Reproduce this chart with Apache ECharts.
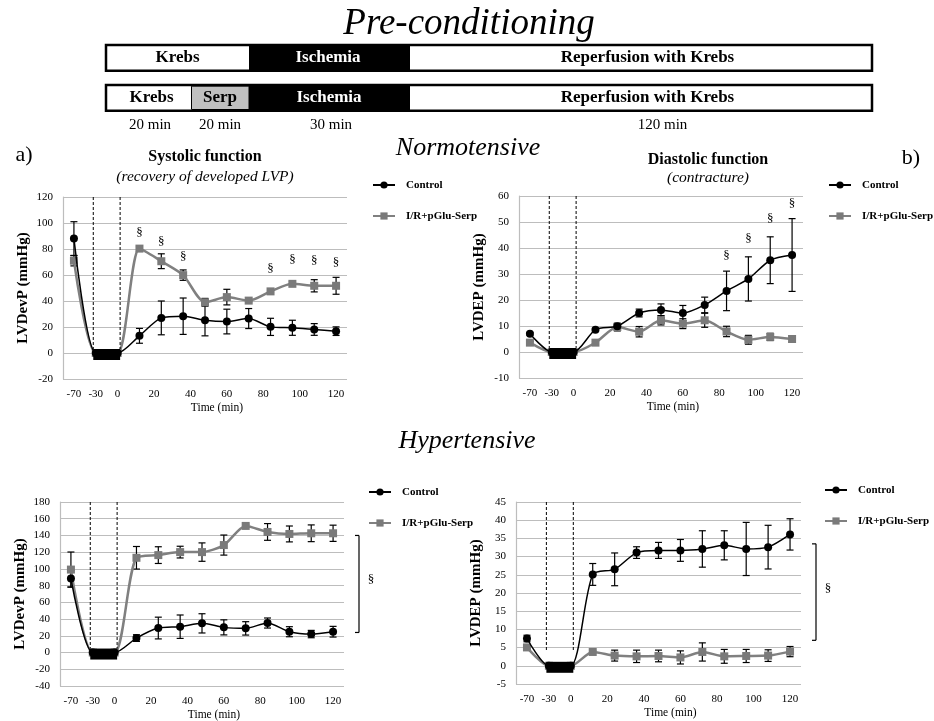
<!DOCTYPE html>
<html>
<head>
<meta charset="utf-8">
<title>Pre-conditioning</title>
<script src="https://cdn.jsdelivr.net/npm/echarts@6/dist/echarts.min.js"></script>
<style>
  html, body { margin: 0; padding: 0; background: #fff; }
  #chart { width: 934px; height: 721px; }
</style>
</head>
<body>
<div id="chart"></div>
<script>
const serif = '"Liberation Serif", "Times New Roman", serif';

// sample positions on the time axis (baseline and ischemia are squeezed in front of 0)
const timeSlots = [-24, -12, 0, 12, 24, 36, 48, 60, 72, 84, 96, 108, 120];
const xTickVals = [-24, -12, 0, 20, 40, 60, 80, 100, 120];
const xTickText = ['-70', '-30', '0', '20', '40', '60', '80', '100', '120'];
const seriesNames = ['Control', 'I/R+pGlu-Serp'];

// a) normotensive, systolic (LVDevP)
const normSysCtrl = [88, 0, 0, 13.2, 27, 28.3, 25.2, 24.2, 26.5, 20.1, 19.4, 18.1, 16.8];
const normSysCtrlErr = [13, 0, 0, 5.7, 13, 14, 12, 9.5, 7.7, 6.6, 5.8, 4.5, 3.3];
const normSysSerp = [71, 0, 0, 80.3, 70.6, 59.9, 39, 43, 40.3, 47.4, 53.2, 51.7, 51.7];
const normSysSerpErr = [4, 0, 0, 1.5, 5.7, 4, 3, 6, 1, 1, 1.5, 4.7, 6.5];
const normSysSig = [null, null, null, 92.7, 85.6, 74.4, null, null, null, 64.7, 71.6, 70.8, 69.8];

// b) normotensive, diastolic (LVDEP)
const normDiaCtrl = [7, 0, 0, 8.6, 9.9, 15, 16.2, 15, 18.1, 23.5, 28.1, 35.3, 37.3];
const normDiaCtrlErr = [0.5, 0, 0, 0.5, 0.8, 1.5, 2.3, 2.9, 3, 7.6, 8.5, 9, 14];
const normDiaSerp = [3.6, 0, 0, 3.6, 9.6, 7.8, 12.2, 10.9, 12.2, 7.9, 4.7, 5.8, 5];
const normDiaSerpErr = [0.5, 0, 0, 0.5, 1.5, 2, 1.8, 1.9, 2.7, 2, 1.7, 1.4, 1.2];
const normDiaSig = [null, null, null, null, null, null, null, null, null, 37.2, 43.5, 51.2, 57.1];

// c) hypertensive, systolic (LVDevP)
const hypSysCtrl = [88.4, 0, 0, 17.3, 29.3, 30.9, 34.9, 30.1, 28.9, 35.3, 24.9, 22.1, 24.9];
const hypSysCtrlErr = [10, 0, 0, 4, 13, 14, 11.5, 9, 8, 6, 6, 4.4, 6.4];
const hypSysSerp = [99.2, 0, 0, 113.3, 116.5, 120.1, 120.1, 128.5, 151.4, 144.2, 141.8, 142.6, 142.6];
const hypSysSerpErr = [21, 0, 0, 13.5, 10, 7, 11, 12, 2, 10, 9.5, 10, 9.7];
const hypSysBracket = [140, 24];

// d) hypertensive, diastolic (LVDEP)
const hypDiaCtrl = [7.5, 0, 0, 25.1, 26.5, 31.1, 31.7, 31.7, 32.1, 33.1, 32.1, 32.6, 36.1];
const hypDiaCtrlErr = [0.9, 0, 0, 3, 4.5, 1.6, 2.2, 3, 5, 4, 7.3, 6, 4.3];
const hypDiaSerp = [5.05, 0, 0, 3.8, 2.8, 2.6, 2.7, 2.3, 3.8, 2.6, 2.7, 2.8, 3.9];
const hypDiaSerpErr = [0.5, 0, 0, 0.3, 1.5, 1.7, 1.6, 1.8, 2.5, 1.9, 1.8, 1.6, 1.4];
const hypDiaBracket = [33.5, 7];

const panels = [
  { grid: { left: 63, top: 197, width: 284, height: 182 }, y: [-20, 120, 20], yName: 'LVDevP (mmHg)',
    ctrl: normSysCtrl, ctrlErr: normSysCtrlErr, serp: normSysSerp, serpErr: normSysSerpErr,
    sig: normSysSig, bracket: null, dashEnd: 0, legend: { left: 372, top: 179 } },
  { grid: { left: 519, top: 196, width: 284, height: 182 }, y: [-10, 60, 10], yName: 'LVDEP (mmHg)',
    ctrl: normDiaCtrl, ctrlErr: normDiaCtrlErr, serp: normDiaSerp, serpErr: normDiaSerpErr,
    sig: normDiaSig, bracket: null, dashEnd: 0, legend: { left: 828, top: 179 } },
  { grid: { left: 60, top: 502, width: 284, height: 184 }, y: [-40, 180, 20], yName: 'LVDevP (mmHg)',
    ctrl: hypSysCtrl, ctrlErr: hypSysCtrlErr, serp: hypSysSerp, serpErr: hypSysSerpErr,
    sig: null, bracket: hypSysBracket, dashEnd: 0, legend: { left: 368, top: 486 } },
  { grid: { left: 516, top: 502, width: 285, height: 182 }, y: [-5, 45, 5], yName: 'LVDEP (mmHg)',
    ctrl: hypDiaCtrl, ctrlErr: hypDiaCtrlErr, serp: hypDiaSerp, serpErr: hypDiaSerpErr,
    sig: null, bracket: hypDiaBracket, dashEnd: 4, legend: { left: 824, top: 484 } }
];

const chart = echarts.init(document.getElementById('chart'), null, { renderer: 'canvas' });

function errorBars(params, api) {
  const x = api.value(0), y = api.value(1), e = api.value(2);
  if (!e) return null;
  const t = api.coord([x, y + e]);
  const b = api.coord([x, y - e]);
  const w = 3.5;
  const st = { stroke: '#000', lineWidth: 1.2 };
  return {
    type: 'group',
    children: [
      { type: 'line', shape: { x1: t[0], y1: t[1], x2: b[0], y2: b[1] }, style: st },
      { type: 'line', shape: { x1: t[0] - w, y1: t[1], x2: t[0] + w, y2: t[1] }, style: st },
      { type: 'line', shape: { x1: b[0] - w, y1: b[1], x2: b[0] + w, y2: b[1] }, style: st }
    ]
  };
}

function ischemiaBlock(params, api) {
  const a = api.coord([api.value(0), 0]);
  const b = api.coord([api.value(1), 0]);
  const top = api.coord([api.value(0), api.value(2)])[1];
  const end = Math.min(api.coord([api.value(0), api.value(3)])[1], a[1] - 4);
  const x1 = a[0] - 2.5, x2 = b[0] + 2.5;
  const dash = { stroke: '#000', lineWidth: 1, lineDash: [3, 2] };
  return {
    type: 'group',
    children: [
      { type: 'line', shape: { x1: x1, y1: top, x2: x1, y2: end }, style: dash },
      { type: 'line', shape: { x1: x2, y1: top, x2: x2, y2: end }, style: dash },
      { type: 'rect', shape: { x: x1, y: a[1] - 4, width: x2 - x1, height: 11 }, style: { fill: '#000' } }
    ]
  };
}

function sigMarks(params, api) {
  const c = api.coord([api.value(0), api.value(1)]);
  return { type: 'text', x: c[0], y: c[1],
    style: { text: '§', font: '13px ' + serif, fill: '#000', align: 'center', verticalAlign: 'middle' } };
}

function bracket(params, api) {
  const cs = params.coordSys;
  const xr = cs.x + cs.width + 15;
  const t = api.coord([0, api.value(1)])[1];
  const b = api.coord([0, api.value(2)])[1];
  const st = { stroke: '#000', lineWidth: 1.2 };
  return {
    type: 'group',
    children: [
      { type: 'line', shape: { x1: xr - 4, y1: t, x2: xr, y2: t }, style: st },
      { type: 'line', shape: { x1: xr, y1: t, x2: xr, y2: b }, style: st },
      { type: 'line', shape: { x1: xr - 4, y1: b, x2: xr, y2: b }, style: st },
      { type: 'text', x: xr + 12, y: (t + b) / 2 - 4,
        style: { text: '§', font: '13px ' + serif, fill: '#000', align: 'center', verticalAlign: 'middle' } }
    ]
  };
}

const grids = [], xAxes = [], yAxes = [], series = [], legends = [];

panels.forEach(function (p, i) {
  grids.push(Object.assign({ outerBoundsMode: 'none', containLabel: false }, p.grid));
  xAxes.push({
    gridIndex: i, type: 'value', min: -30, max: 126,
    axisLine: { show: false, onZero: false },
    axisTick: { show: false },
    splitLine: { show: false },
    axisLabel: {
      customValues: xTickVals,
      margin: 10,
      color: '#000', fontFamily: serif, fontSize: 11,
      formatter: function (v) { return xTickText[xTickVals.indexOf(v)]; }
    },
    name: 'Time (min)', nameLocation: 'middle', nameGap: 23,
    nameTextStyle: { color: '#000', fontFamily: serif, fontSize: 11.5, padding: [0, 0, 0, 24] }
  });
  yAxes.push({
    gridIndex: i, type: 'value', min: p.y[0], max: p.y[1], interval: p.y[2],
    axisLine: { show: true, onZero: false, lineStyle: { color: '#bdbdbd', width: 1.2 } },
    axisTick: { show: false },
    splitLine: { show: true, lineStyle: { color: '#bdbdbd', width: 1.2 } },
    axisLabel: { color: '#000', fontFamily: serif, fontSize: 11, margin: 10 },
    name: p.yName, nameLocation: 'middle', nameGap: 32,
    nameTextStyle: { color: '#000', fontFamily: serif, fontSize: 15, fontWeight: 'bold' }
  });
  legends.push({
    left: p.legend.left, top: p.legend.top, orient: 'vertical',
    padding: 0, itemGap: 19, itemWidth: 22, itemHeight: 9,
    selectedMode: false,
    data: seriesNames,
    textStyle: { color: '#000', fontFamily: serif, fontSize: 11, fontWeight: 'bold', lineHeight: 12, padding: [0, 0, 0, 6] }
  });

  series.push({
    type: 'custom', xAxisIndex: i, yAxisIndex: i, renderItem: errorBars, silent: true, z: 2,
    data: timeSlots.map(function (t, k) { return [t, p.ctrl[k], p.ctrlErr[k]]; })
  });
  series.push({
    type: 'custom', xAxisIndex: i, yAxisIndex: i, renderItem: errorBars, silent: true, z: 2,
    data: timeSlots.map(function (t, k) { return [t, p.serp[k], p.serpErr[k]]; })
  });
  series.push({
    type: 'line', name: seriesNames[1], xAxisIndex: i, yAxisIndex: i,
    data: timeSlots.map(function (t, k) { return [t, p.serp[k]]; }),
    smooth: 0.25, symbol: 'rect', symbolSize: 8,
    lineStyle: { color: '#808080', width: 2.5 }, itemStyle: { color: '#7a7a7a' },
    z: 3, silent: true
  });
  series.push({
    type: 'line', name: seriesNames[0], xAxisIndex: i, yAxisIndex: i,
    data: timeSlots.map(function (t, k) { return [t, p.ctrl[k]]; }),
    smooth: 0.25, symbol: 'circle', symbolSize: 8,
    lineStyle: { color: '#000', width: 1.5 }, itemStyle: { color: '#000' },
    z: 4, silent: true
  });
  series.push({
    type: 'custom', xAxisIndex: i, yAxisIndex: i, renderItem: ischemiaBlock, silent: true, z: 6,
    data: [[timeSlots[1], timeSlots[2], p.y[1], p.dashEnd]]
  });
  if (p.sig) {
    series.push({
      type: 'custom', xAxisIndex: i, yAxisIndex: i, renderItem: sigMarks, silent: true, z: 6,
      data: timeSlots.map(function (t, k) { return [t, p.sig[k]]; })
        .filter(function (d) { return d[1] !== null; })
    });
  }
  if (p.bracket) {
    series.push({
      type: 'custom', xAxisIndex: i, yAxisIndex: i, renderItem: bracket, silent: true, z: 6,
      data: [[0, p.bracket[0], p.bracket[1]]]
    });
  }
});

function label(text, x, y, font, fill) {
  return { type: 'text', x: x, y: y, silent: true,
    style: { text: text, font: font + ' ' + serif, fill: fill || '#000', align: 'center', verticalAlign: 'middle' } };
}

const boxLine = { stroke: '#000', lineWidth: 2.5 };
const graphics = [
  label('Pre-conditioning', 469, 24, 'italic 37px'),
  // protocol row 1
  { type: 'rect', shape: { x: 106, y: 45, width: 766, height: 25.7 }, style: Object.assign({ fill: '#fff' }, boxLine) },
  { type: 'rect', shape: { x: 249, y: 45, width: 161, height: 25.7 }, style: { fill: '#000' } },
  label('Krebs', 177.5, 58, 'bold 17px'),
  label('Ischemia', 328, 58, 'bold 17px', '#fff'),
  label('Reperfusion with Krebs', 647.5, 58, 'bold 17px'),
  // protocol row 2
  { type: 'rect', shape: { x: 106, y: 85, width: 766, height: 25.7 }, style: Object.assign({ fill: '#fff' }, boxLine) },
  { type: 'rect', shape: { x: 191.5, y: 86.2, width: 57.5, height: 23.3 }, style: { fill: '#c0c0c0', stroke: '#000', lineWidth: 1 } },
  { type: 'rect', shape: { x: 249, y: 85, width: 161, height: 25.7 }, style: { fill: '#000' } },
  label('Krebs', 151.5, 98, 'bold 17px'),
  label('Serp', 220, 98, 'bold 17px'),
  label('Ischemia', 329, 98, 'bold 17px', '#fff'),
  label('Reperfusion with Krebs', 647.5, 98, 'bold 17px'),
  label('20 min', 150, 125, '15px'),
  label('20 min', 220, 125, '15px'),
  label('30 min', 331, 125, '15px'),
  label('120 min', 662.5, 125, '15px'),
  // section headings
  label('Normotensive', 468, 148, 'italic 26px'),
  label('Hypertensive', 467, 441, 'italic 26px'),
  label('a)', 24, 155, '22px'),
  label('b)', 911, 158, '22px'),
  label('Systolic function', 205, 157, 'bold 16px'),
  label('(recovery of developed LVP)', 205, 177, 'italic 15.5px'),
  label('Diastolic function', 708, 160, 'bold 16px'),
  label('(contracture)', 708, 178, 'italic 15.5px')
];

chart.setOption({
  animation: false,
  backgroundColor: '#fff',
  grid: grids,
  xAxis: xAxes,
  yAxis: yAxes,
  legend: legends,
  series: series,
  graphic: graphics
});
</script>
</body>
</html>
